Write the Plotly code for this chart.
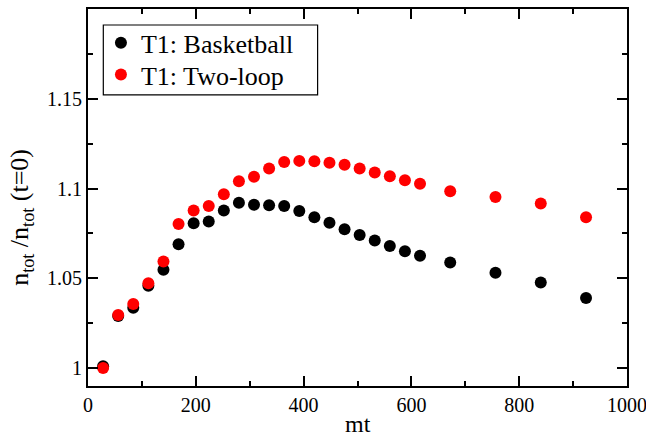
import plotly.graph_objects as go

mt = [28, 56, 84, 112, 140, 168, 196, 224, 252, 280, 308, 336, 364, 392, 420,
      448, 476, 504, 532, 560, 588, 616, 672, 756, 840, 924]
basketball = [1.001, 1.029, 1.0336, 1.0459, 1.0548, 1.069, 1.0807, 1.0816, 1.0877,
              1.0921, 1.0909, 1.0907, 1.0903, 1.0875, 1.084, 1.0809, 1.0773, 1.0741,
              1.071, 1.068, 1.065, 1.0626, 1.0588, 1.0531, 1.0476, 1.039]
two_loop = [1.0, 1.0295, 1.0357, 1.0472, 1.0593, 1.0803, 1.0877, 1.0903, 1.0968,
            1.1041, 1.1066, 1.1111, 1.1148, 1.1154, 1.1152, 1.1144, 1.1133, 1.1111,
            1.1089, 1.1068, 1.1046, 1.1026, 1.0985, 1.0953, 1.0916, 1.084]

y_tickvals = [1, 1.05, 1.1, 1.15]
y_ticktext = ["1", "1.05", "1.1", "1.15"]
x_tickvals = [0, 200, 400, 600, 800, 1000]
x_ticktext = ["0", "200", "400", "600", "800", "1000"]

FONT = "Liberation Serif, Times New Roman, serif"

fig = go.Figure()
fig.add_trace(go.Scatter(x=mt, y=basketball, mode="markers", name="T1: Basketball",
                         marker=dict(color="black", size=12), legend="legend"))
fig.add_trace(go.Scatter(x=mt, y=two_loop, mode="markers", name="T1: Two-loop",
                         marker=dict(color="#ff0000", size=12), legend="legend2"))

axis_common = dict(showline=True, linecolor="black", linewidth=2, mirror="ticks",
                   ticks="inside", ticklen=10, tickwidth=1.5, tickcolor="black",
                   showgrid=False, zeroline=False, ticklabeloverflow="allow",
                   automargin=False,
                   tickfont=dict(family=FONT, size=20, color="black"))

fig.update_xaxes(range=[0, 1000], tickvals=x_tickvals, ticktext=x_ticktext,
                 minor=dict(ticks="inside", ticklen=5, dtick=100, tickcolor="black", tickwidth=1.5),
                 **axis_common)
fig.update_yaxes(range=[0.99, 1.2], tickvals=y_tickvals, ticktext=y_ticktext,
                 minor=dict(ticks="inside", ticklen=5, tickvals=[0.975, 1.025, 1.075, 1.125, 1.175],
                            tickcolor="black", tickwidth=1.5),
                 **axis_common)

# axis titles as text annotations (placed like the reference)
fig.add_annotation(text="mt", xref="paper", yref="paper", x=0.5, y=0, yshift=-38,
                   xanchor="center", yanchor="middle", showarrow=False,
                   font=dict(family=FONT, size=24, color="black"))
fig.add_annotation(text="n<sub>tot</sub> /n<sub>tot</sub> (t=0)", textangle=-90,
                   xref="paper", yref="paper", x=0, y=0.446, xshift=-67,
                   xanchor="center", yanchor="middle", showarrow=False,
                   font=dict(family=FONT, size=26, color="black"))

# legend frame
fig.add_shape(type="rect", xref="paper", yref="paper", x0=0.0284, x1=0.426,
              y0=0.772, y1=0.9576, line=dict(color="black", width=1.2),
              fillcolor="white", layer="above")

leg_common = dict(xanchor="left", yanchor="middle", bgcolor="rgba(0,0,0,0)",
                  borderwidth=0, font=dict(family=FONT, size=26, color="black"),
                  itemsizing="trace")

fig.update_layout(
    width=646, height=437,
    margin=dict(l=88, r=19, t=9, b=51),
    paper_bgcolor="white", plot_bgcolor="white",
    showlegend=True,
    legend=dict(x=0.024, y=0.91, **leg_common),
    legend2=dict(x=0.024, y=0.826, **leg_common),
)

fig.write_html("out.html", post_script="document.body.style.margin='0';",
               config={"displayModeBar": False})
